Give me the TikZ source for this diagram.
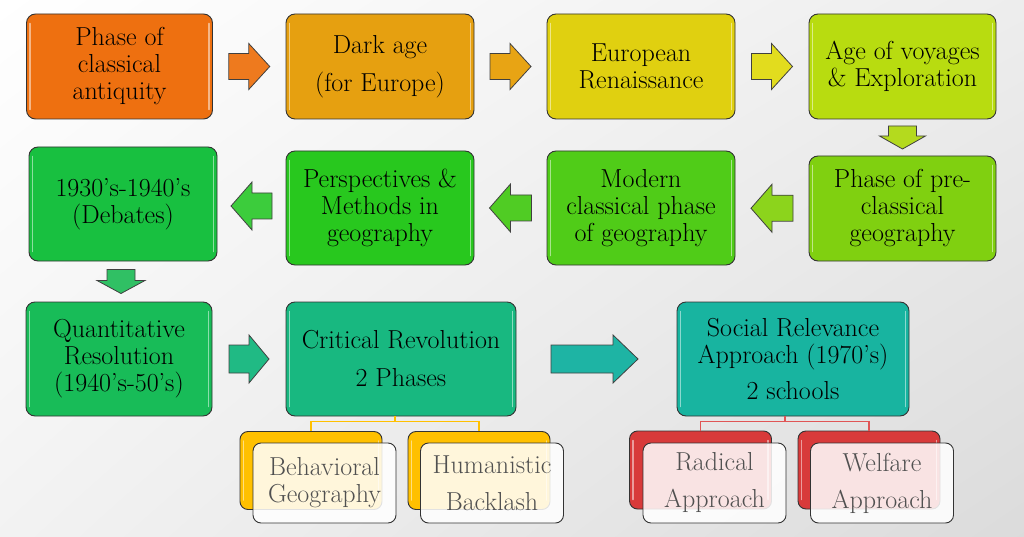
\documentclass[tikz,border=0pt]{standalone}
\usepackage{fontspec}
\usetikzlibrary{calc,shadings}
\definecolor{c1}{HTML}{EE7010}
\definecolor{c2}{HTML}{E6A010}
\definecolor{c3}{HTML}{E0D010}
\definecolor{c4}{HTML}{B8DC10}
\definecolor{c5}{HTML}{80D010}
\definecolor{c6}{HTML}{50CC18}
\definecolor{c7}{HTML}{28C81E}
\definecolor{c8}{HTML}{18C040}
\definecolor{c9}{HTML}{18BC58}
\definecolor{c10}{HTML}{18B880}
\definecolor{c11}{HTML}{18B4A0}
\definecolor{a1}{HTML}{EE7A1E}
\definecolor{a2}{HTML}{E8A414}
\definecolor{a3}{HTML}{E2DC1E}
\definecolor{a4}{HTML}{B4DA1E}
\definecolor{a5}{HTML}{8CD41C}
\definecolor{a6}{HTML}{50CC24}
\definecolor{a7}{HTML}{3CCC3C}
\definecolor{a8}{HTML}{30C064}
\definecolor{a9}{HTML}{20BA84}
\definecolor{a10}{HTML}{1EB4A4}
\definecolor{amber}{HTML}{FFC000}
\definecolor{redbox}{HTML}{D83A3A}
\definecolor{redline}{HTML}{E05555}
\definecolor{subtext}{HTML}{505050}
\newcommand\boxshine[1]{%
  \draw[white,opacity=0.5,line width=1.6pt,line cap=round]
    ([xshift=4pt,yshift=-10pt]#1.north west) -- ([xshift=4pt,yshift=10pt]#1.south west);
  \draw[white,opacity=0.5,line width=1.6pt,line cap=round]
    ([xshift=-4pt,yshift=-10pt]#1.north east) -- ([xshift=-4pt,yshift=10pt]#1.south east);}
\tikzset{
  pics/blkarrow/.style n args={4}{code={
    \path[pic actions] ({-#1/2},{-#3}) -- ({#1/2-#2},{-#3}) -- ({#1/2-#2},{-#4})
      -- ({#1/2},0) -- ({#1/2-#2},{#4}) -- ({#1/2-#2},{#3}) -- ({-#1/2},{#3}) -- cycle;
  }},
  arr/.style={draw=black!75, line width=0.8pt, fill=#1},
  box/.style={draw=black!80, line width=0.9pt, rounded corners=9pt, inner sep=0pt,
    align=center, font=\fontsize{26}{27}\selectfont, text=black},
  subback/.style={draw=black!80, line width=0.9pt, rounded corners=8pt, inner sep=0pt,
    fill=#1, minimum width=142pt, minimum height=78pt},
  subfront/.style={draw=black!80, line width=0.9pt, rounded corners=8pt, inner sep=0pt,
    fill=white, fill opacity=0.86, text opacity=1, text=subtext, align=center,
    minimum width=143pt, minimum height=80pt, font=\fontsize{26}{27}\selectfont},
  conn/.style={line width=1.3pt, draw=#1},
}
\begin{document}
\begin{tikzpicture}[x=1pt,y=-1pt]
\shade[upper left=white, upper right=black!7, lower left=black!5, lower right=black!14]
  (0,0) rectangle (1024,537);
\useasboundingbox (0,0) rectangle (1024,537);

% row 1
\node[box, fill=c1, minimum width=186pt, minimum height=105pt] (b1) at (119.5,66.5) {Phase of\\classical\\antiquity};
\node[box, fill=c2, minimum width=188pt, minimum height=105pt] (b2) at (380,66.5) {Dark age\\[11pt](for Europe)};
\node[box, fill=c3, minimum width=188pt, minimum height=105pt] (b3) at (641,66.5) {European\\Renaissance};
\node[box, fill=c4, minimum width=187pt, minimum height=105pt] (b4) at (902.5,66.5) {Age of voyages\\\& Exploration};
% row 2
\node[box, fill=c5, minimum width=187pt, minimum height=105pt] (b5) at (902.5,208.5) {Phase of pre-\\classical\\geography};
\node[box, fill=c6, minimum width=188pt, minimum height=114pt] (b6) at (641,208) {Modern\\classical phase\\of geography};
\node[box, fill=c7, minimum width=188pt, minimum height=114pt] (b7) at (380,208) {Perspectives \&\\Methods in\\geography};
\node[box, fill=c8, minimum width=188pt, minimum height=114pt] (b8) at (123,204) {1930’s-1940’s\\(Debates)};
% row 3
\node[box, fill=c9, minimum width=186pt, minimum height=114pt] (b9) at (119,359) {Quantitative\\Resolution\\(1940’s-50’s)};
\node[box, fill=c10, minimum width=230pt, minimum height=114pt] (b10) at (401,359) {Critical Revolution\\[11pt]2 Phases};
\node[box, fill=c11, minimum width=232pt, minimum height=114pt] (b11) at (793,359) {Social Relevance\\Approach (1970’s)\\[9pt]2 schools};

\foreach \n in {b1,b2,b3,b4,b5,b6,b7,b8,b9,b10,b11} {\boxshine{\n}}

% arrows
\pic[arr=a1] at ($(b1.east)!0.5!(b2.west)$) {blkarrow={41}{21}{13}{23}};
\pic[arr=a2] at ($(b2.east)!0.5!(b3.west)$) {blkarrow={41}{21}{13}{23}};
\pic[arr=a3] at ($(b3.east)!0.5!(b4.west)$) {blkarrow={41}{21}{13}{23}};
\pic[arr=a4, rotate=-90] at ($(b4.south)!0.5!(b5.north)$) {blkarrow={23}{13}{14}{23}};
\pic[arr=a5, rotate=180] at ($(b5.west)!0.5!(b6.east)$) {blkarrow={42}{21}{13}{24}};
\pic[arr=a6, rotate=180] at ($(b6.west)!0.5!(b7.east)$) {blkarrow={42}{21}{13}{24}};
\pic[arr=a7, rotate=180] at ($(b7.west)!0.5!(b8.east)$) {blkarrow={41}{21}{13}{24}};
\pic[arr=a8, rotate=-90] at ($(b8.south)!0.5!(b9.north)$) {blkarrow={24}{13}{14}{24}};
\pic[arr=a9] at ($(b9.east)!0.5!(b10.west)$) {blkarrow={40}{20}{14}{24}};
\pic[arr=a10] at ($(b10.east)!0.5!(b11.west)+(-2,0)$) {blkarrow={87}{25}{14}{24}};

% sub boxes: critical revolution
\node[subback=amber] (bbk) at (311,470.5) {};
\node[subback=amber] (hbk) at (479,470.5) {};
\boxshine{bbk}\boxshine{hbk}
\node[subfront] (bfr) at (324.5,483) {Behavioral\\Geography};
\node[subfront] (hfr) at (492,483) {Humanistic\\[10pt]Backlash};
\coordinate (crj) at ($(b10.south)+(-6,5)$);
\draw[conn=amber] ($(b10.south)+(-6,0)$) -- (crj);
\draw[conn=amber] (crj) -| (bbk.north);
\draw[conn=amber] (crj) -| (hbk.north);

% sub boxes: social relevance
\node[subback=redbox] (rbk) at (700.5,470) {};
\node[subback=redbox] (wbk) at (869,470) {};
\boxshine{rbk}\boxshine{wbk}
\node[subfront] (rfr) at (714.5,483) {Radical\\[10pt]Approach};
\node[subfront] (wfr) at (882,483) {Welfare\\[10pt]Approach};
\coordinate (srj) at ($(b11.south)+(-8,5)$);
\draw[conn=redline] ($(b11.south)+(-8,0)$) -- (srj);
\draw[conn=redline] (srj) -| (rbk.north);
\draw[conn=redline] (srj) -| (wbk.north);
\end{tikzpicture}
\end{document}
